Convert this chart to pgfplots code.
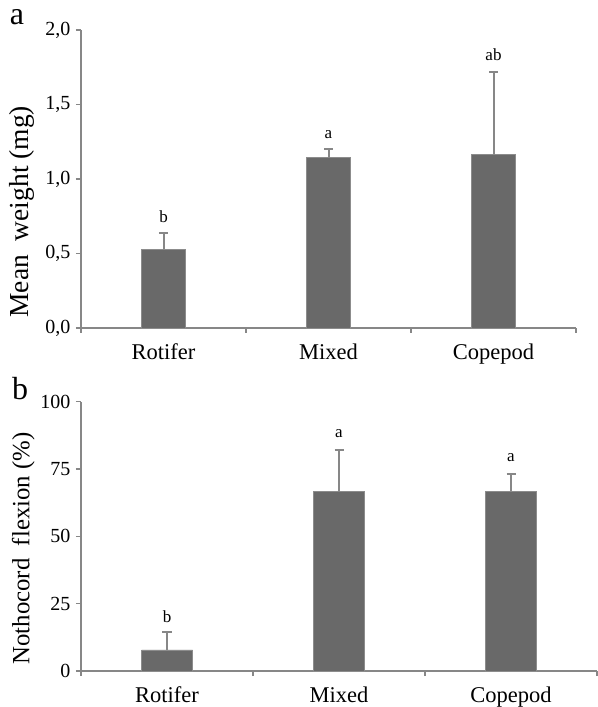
\documentclass[border=0pt]{standalone}
\usepackage{fontspec}
\setmainfont{Liberation Serif}
\usepackage{pgfplots}
\pgfplotsset{compat=1.18}
\definecolor{barfill}{RGB}{105,105,105}
\definecolor{baredge}{RGB}{140,140,140}
\definecolor{axisgray}{RGB}{135,135,135}
\pgfplotsset{
  panel/.style={
    scale only axis,
    clip=false,
    axis x line*=bottom, axis y line*=left,
    axis line style={axisgray, line width=1.3bp},
    every tick/.style={axisgray, line width=1.3bp},
    xmin=-0.5, xmax=2.5,
    xtick={-0.5,0.5,1.5,2.5}, xticklabels={},
    extra x ticks={0,1,2},
    extra x tick labels={Rotifer,Mixed,Copepod},
    extra x tick style={major tick length=0pt},
    tick align=outside,
    major tick length=5bp,
    yticklabel style={font=\fontsize{20bp}{24bp}\selectfont, xshift=-2bp},
    xticklabel style={font=\fontsize{22.5bp}{27bp}\selectfont, yshift=-12bp},
    /pgf/number format/assume math mode=true,
  },
  bars/.style={ybar, fill=barfill, draw=baredge, line width=0.8bp,
    error bars/.cd, y dir=plus, y explicit,
    error bar style={axisgray, line width=2bp},
    error mark options={rotate=90, mark size=4.5bp, line width=2bp, axisgray},
    /pgfplots/.cd},
  sig/.style={draw=none, mark=none, nodes near coords, point meta=explicit symbolic,
    nodes near coords style={anchor=center, font=\fontsize{17bp}{20bp}\selectfont, inner sep=0pt}},
}
\begin{document}
\begin{tikzpicture}
\useasboundingbox (0,0) rectangle (598bp,707bp);
% Panel a
\begin{axis}[panel,
  at={(81bp,379bp)}, anchor=south west,
  width=495bp, height=298bp,
  ymin=0, ymax=2,
  ytick={0,0.5,1,1.5,2},
  yticklabel style={/pgf/number format/.cd, use comma, fixed, fixed zerofill, precision=1},
  ylabel={Mean~~weight (mg)},
  ylabel style={font=\fontsize{27.5bp}{32bp}\selectfont, at={(axis description cs:-0.119,0.39)}, anchor=center},
]
\addplot[bar width=44bp, bars]
  coordinates {(0,0.528) +- (0,0.112) (1,1.143) +- (0,0.056) (2,1.163) +- (0,0.557)};
\addplot[sig] table[meta=lab] {
x y lab
0 0.747 b
1 1.295 a
2 1.832 ab
};
\end{axis}
% Panel b
\begin{axis}[panel,
  at={(81bp,36bp)}, anchor=south west,
  width=516bp, height=269.3bp,
  ymin=0, ymax=100,
  ytick={0,25,50,75,100},
  ylabel={Nothocord~~flexion (\%)},
  ylabel style={font=\fontsize{24.8bp}{29bp}\selectfont, at={(axis description cs:-0.112,0.455)}, anchor=center},
]
\addplot[bar width=51bp, bars]
  coordinates {(0,7.8) +- (0,6.8) (1,66.6) +- (0,15.5) (2,66.8) +- (0,6.2)};
\addplot[sig] table[meta=lab] {
x y lab
0 20.2 b
1 88.0 a
2 79.4 a
};
\end{axis}
\node[anchor=base, font=\fontsize{32bp}{36bp}\selectfont] at (17bp,682bp) {a};
\node[anchor=base, font=\fontsize{32bp}{36bp}\selectfont] at (20bp,307bp) {b};
\end{tikzpicture}
\end{document}
